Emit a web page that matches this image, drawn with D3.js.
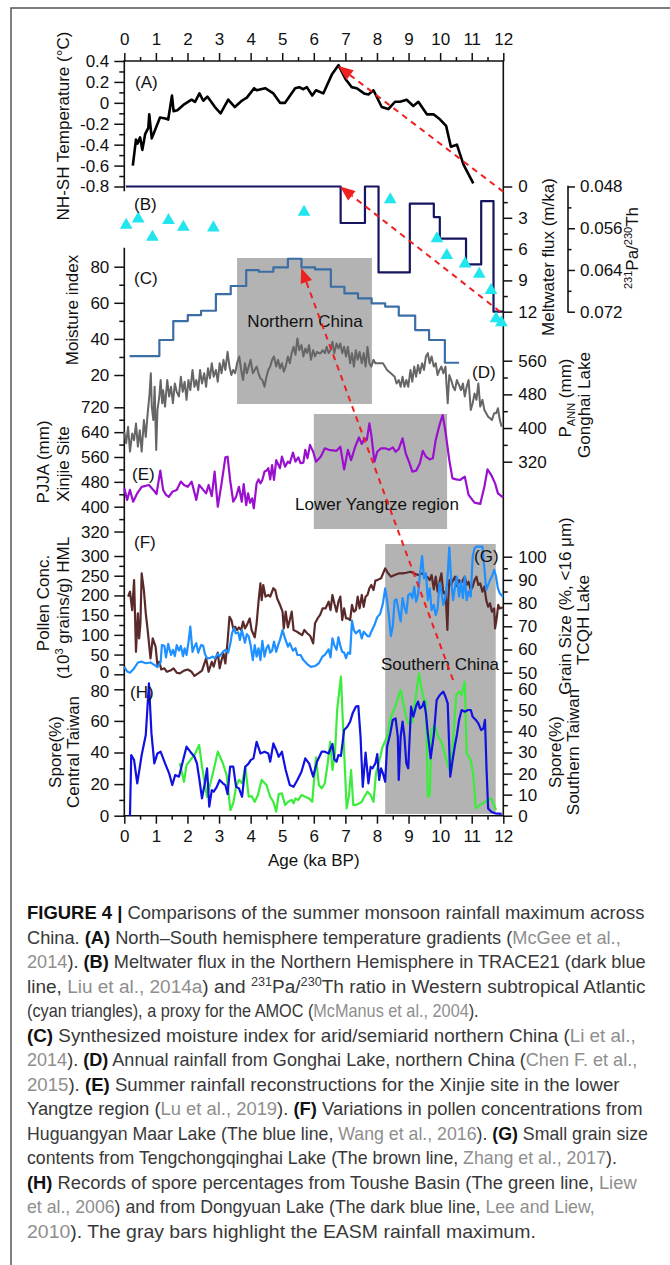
<!DOCTYPE html>
<html>
<head>
<meta charset="utf-8">
<script src="https://cdn.jsdelivr.net/npm/d3@7"></script>
<style>
	body { margin: 0; background: #fff; }
	svg text { font-family: "Liberation Sans", Arial, sans-serif; }
</style>
</head>
<body>
<div id="chart"></div>
<script>
// ---- data (age in ka BP, value in the panel's own unit) ----
const ageTicks = [0, 1, 2, 3, 4, 5, 6, 7, 8, 9, 10, 11, 12];
const ageMinor = [0.5, 1.5, 2.5, 3.5, 4.5, 5.5, 6.5, 7.5, 8.5, 9.5, 10.5, 11.5];

// (A) NH-SH temperature gradient
const nhShTemp = [[0.27,-0.6],[0.37,-0.35],[0.42,-0.39],[0.5,-0.33],[0.57,-0.45],[0.66,-0.3],[0.76,-0.24],[0.79,-0.11],[0.87,-0.34],[1.13,-0.14],[1.3,-0.15],[1.39,-0.16],[1.51,0.07],[1.56,-0.08],[1.68,-0.07],[1.87,-0.02],[2.13,0.03],[2.24,0.01],[2.38,0.09],[2.5,0.02],[2.63,0.06],[2.87,-0.04],[3.05,-0.1],[3.29,0.03],[3.5,-0.04],[3.72,0.02],[3.88,0.05],[4.11,0.14],[4.19,0.12],[4.46,0.14],[4.72,0.09],[4.93,0],[5.09,0],[5.41,0.14],[5.54,0.15],[5.67,0.13],[5.78,0.15],[5.95,0.07],[6.07,0.12],[6.3,0.09],[6.57,0.27],[6.78,0.36],[7.02,0.22],[7.2,0.15],[7.36,0.14],[7.59,0.09],[7.73,0.08],[7.89,0.12],[8.15,-0.04],[8.36,-0.06],[8.57,0.01],[8.73,0.01],[8.94,0.03],[9.15,-0.03],[9.31,0.01],[9.58,-0.11],[9.79,-0.11],[10.0,-0.16],[10.19,-0.22],[10.34,-0.42],[10.53,-0.4],[10.74,-0.59],[11.05,-0.77]];
const tempTicks = [0.4, 0.2, 0, -0.2, -0.4, -0.6, -0.8];
const tempMinor = [0.3, 0.1, -0.1, -0.3, -0.5, -0.7];

// (B) meltwater flux (step) and 231Pa/230Th
const meltwaterSteps = [[0.05,0],[6.85,3.5],[7.62,0],[8.05,8.24],[9.04,1.65],[9.8,2.93],[9.99,5.0],[10.82,7.47],[11.3,1.4],[11.69,12],[12.0,12]];
const fluxTicks = [0, 3, 6, 9, 12];
const fluxMinor = [1.5, 4.5, 7.5, 10.5];
const paTh = [[0.06,0.0554],[0.44,0.0542],[0.89,0.0577],[1.4,0.0545],[1.87,0.0558],[2.82,0.0559],[5.69,0.0529],[8.42,0.0505],[9.9,0.058],[10.21,0.0612],[10.79,0.0628],[11.24,0.0648],[11.61,0.0679],[11.77,0.0733],[11.94,0.0741]];
const paThTicks = [0.048, 0.056, 0.064, 0.072];
const paThMinor = [0.052, 0.060, 0.068];

// (C) moisture index (step)
const moistureSteps = [[0.17,30.5],[1.11,39.4],[1.55,49.9],[2.01,53.2],[2.43,55.6],[2.9,64.8],[3.37,69.3],[3.86,78.1],[4.26,77.2],[4.72,79.6],[5.18,84.4],[5.61,79.6],[6.04,78.5],[6.54,68.9],[6.97,65.2],[7.4,62.5],[7.83,59.7],[8.26,57.9],[8.69,52.9],[9.21,44.9],[9.65,39.4],[10.15,26.8],[10.6,26.8]];
const moistTicks = [20, 40, 60, 80];
const moistMinor = [30, 50, 70];

// (D) Gonghai Lake P_ANN (mm)
const gonghai = [[0,391],[0.06,364],[0.12,403],[0.18,344],[0.25,387],[0.31,371],[0.37,411],[0.43,356],[0.49,395],[0.55,344],[0.62,419],[0.68,379],[0.74,435],[0.8,482],[0.84,530],[0.87,451],[0.92,419],[0.96,498],[1.01,348],[1.05,443],[1.11,475],[1.15,514],[1.2,459],[1.23,490],[1.29,451],[1.36,514],[1.42,475],[1.48,498],[1.54,459],[1.6,506],[1.66,486],[1.73,475],[1.79,522],[1.85,486],[1.91,510],[1.97,467],[2.03,514],[2.09,490],[2.16,538],[2.22,498],[2.28,514],[2.34,490],[2.4,538],[2.46,506],[2.53,530],[2.59,498],[2.65,542],[2.71,518],[2.77,554],[2.83,522],[2.9,538],[2.96,510],[3.02,554],[3.08,530],[3.14,562],[3.2,538],[3.27,581],[3.33,546],[3.39,526],[3.45,538],[3.51,530],[3.57,554],[3.64,570],[3.7,538],[3.76,514],[3.82,554],[3.88,530],[3.94,546],[4.0,562],[4.07,530],[4.13,538],[4.19,546],[4.25,530],[4.31,518],[4.37,514],[4.44,498],[4.5,522],[4.56,538],[4.62,546],[4.68,562],[4.74,570],[4.81,546],[4.87,562],[4.93,542],[4.99,554],[5.05,534],[5.11,546],[5.18,570],[5.24,554],[5.3,578],[5.36,593],[5.42,574],[5.48,613],[5.54,585],[5.61,597],[5.67,570],[5.73,589],[5.79,578],[5.85,597],[5.91,562],[5.98,585],[6.04,570],[6.1,581],[6.16,578],[6.22,578],[6.28,585],[6.35,578],[6.41,593],[6.47,578],[6.53,585],[6.59,605],[6.65,578],[6.72,601],[6.78,589],[6.84,601],[6.9,578],[6.96,593],[7.02,570],[7.08,593],[7.15,554],[7.21,578],[7.27,546],[7.33,585],[7.39,562],[7.45,581],[7.52,554],[7.58,578],[7.64,546],[7.7,593],[7.76,554],[7.82,546],[7.89,562],[7.95,554],[8.07,554],[8.19,554],[8.32,538],[8.44,530],[8.56,522],[8.62,506],[8.69,514],[8.75,498],[8.81,522],[8.87,498],[8.93,514],[8.99,498],[9.06,538],[9.12,510],[9.18,546],[9.24,522],[9.3,550],[9.36,530],[9.43,554],[9.49,538],[9.55,570],[9.61,578],[9.67,554],[9.73,570],[9.8,546],[9.86,554],[9.92,526],[9.98,538],[10.04,546],[10.1,530],[10.17,546],[10.2,506],[10.24,459],[10.29,526],[10.35,514],[10.41,498],[10.47,490],[10.53,514],[10.6,502],[10.66,490],[10.72,506],[10.78,475],[10.84,498],[10.9,514],[10.97,443],[11.03,459],[11.09,482],[11.15,467],[11.21,506],[11.27,451],[11.34,467],[11.4,443],[11.46,435],[11.52,427],[11.58,423],[11.64,419],[11.71,435],[11.77,435],[11.83,447],[11.89,419],[11.95,403]];
const gonghaiTicks = [560, 480, 400, 320];
const gonghaiMinor = [520, 440, 360];

// (E) Xinjie site PJJA (mm)
const xinjie = [[0,459],[0.09,422],[0.18,454],[0.28,416],[0.41,443],[0.55,464],[0.78,470],[0.92,454],[1.02,441],[1.14,516],[1.23,454],[1.32,438],[1.41,432],[1.52,448],[1.66,454],[1.79,481],[1.89,470],[2.01,464],[2.13,481],[2.28,422],[2.37,470],[2.46,459],[2.59,443],[2.67,470],[2.77,434],[2.86,513],[2.96,400],[3.08,475],[3.2,559],[3.27,561],[3.35,486],[3.45,416],[3.54,432],[3.63,464],[3.72,416],[3.78,473],[3.86,405],[3.92,443],[3.98,413],[4.05,427],[4.1,395],[4.19,475],[4.25,488],[4.31,475],[4.37,486],[4.44,513],[4.5,516],[4.56,524],[4.62,488],[4.68,534],[4.74,486],[4.81,550],[4.87,537],[4.93,524],[4.99,561],[5.09,529],[5.18,545],[5.24,540],[5.34,574],[5.42,545],[5.51,559],[5.58,540],[5.67,542],[5.73,583],[5.8,556],[5.88,599],[5.98,577],[6.07,545],[6.22,561],[6.35,588],[6.47,583],[6.72,580],[6.84,593],[6.96,520],[7.08,583],[7.18,550],[7.31,593],[7.43,623],[7.52,602],[7.6,620],[7.68,615],[7.76,668],[7.82,631],[7.92,545],[8.01,577],[8.13,588],[8.26,588],[8.38,583],[8.5,591],[8.59,577],[8.69,585],[8.81,620],[8.91,572],[9.03,540],[9.12,513],[9.24,516],[9.36,540],[9.45,580],[9.55,561],[9.67,552],[9.77,556],[9.86,615],[9.98,663],[10.08,695],[10.17,642],[10.29,550],[10.39,491],[10.51,488],[10.63,486],[10.78,497],[10.9,438],[11.09,413],[11.27,409],[11.4,464],[11.5,520],[11.62,502],[11.74,475],[11.83,443],[11.99,430]];
const xinjieTicks = [720, 640, 560, 480, 400, 320];
const xinjieMinor = [680, 600, 520, 440, 360];

// (F) Huguangyan Maar Lake pollen concentration
const pollen = [[0,19],[0.09,7],[0.18,4],[0.31,15],[0.43,30],[0.55,32],[0.68,28],[0.83,30],[0.95,24],[1.05,18],[1.15,30],[1.19,74],[1.27,72],[1.32,43],[1.39,77],[1.48,49],[1.54,62],[1.6,46],[1.66,74],[1.73,60],[1.79,72],[1.86,46],[1.91,66],[1.97,49],[2.03,80],[2.09,121],[2.16,57],[2.22,70],[2.28,79],[2.34,55],[2.43,74],[2.5,72],[2.55,52],[2.62,41],[2.71,41],[2.8,45],[2.87,41],[2.96,52],[3.02,46],[3.12,57],[3.2,62],[3.29,55],[3.36,79],[3.41,104],[3.47,117],[3.53,104],[3.61,106],[3.66,87],[3.72,112],[3.76,100],[3.82,80],[3.88,102],[3.94,96],[4.0,74],[4.07,36],[4.13,74],[4.19,45],[4.25,66],[4.31,36],[4.37,85],[4.44,45],[4.5,66],[4.56,74],[4.62,55],[4.68,60],[4.74,83],[4.81,57],[4.87,74],[4.93,87],[5.01,112],[5.09,91],[5.18,70],[5.24,79],[5.34,60],[5.42,66],[5.48,49],[5.58,49],[5.67,36],[5.79,26],[5.91,19],[6.04,21],[6.16,28],[6.28,46],[6.35,49],[6.47,63],[6.53,43],[6.59,91],[6.65,74],[6.72,62],[6.78,94],[6.84,72],[6.9,57],[6.96,55],[7.02,41],[7.08,55],[7.15,52],[7.21,136],[7.27,112],[7.33,104],[7.39,108],[7.45,112],[7.52,91],[7.58,108],[7.7,97],[7.76,96],[7.82,108],[7.92,125],[8.01,145],[8.1,153],[8.19,180],[8.26,218],[8.32,188],[8.38,146],[8.44,97],[8.5,121],[8.56,188],[8.62,190],[8.69,159],[8.75,134],[8.81,193],[8.87,170],[8.93,155],[8.99,201],[9.06,205],[9.12,193],[9.18,222],[9.24,184],[9.3,201],[9.36,252],[9.43,300],[9.49,243],[9.55,256],[9.61,188],[9.67,218],[9.73,163],[9.8,176],[9.86,150],[9.92,167],[9.98,231],[10.04,210],[10.1,176],[10.17,197],[10.23,239],[10.29,322],[10.35,235],[10.41,188],[10.47,222],[10.53,248],[10.6,197],[10.66,235],[10.72,193],[10.78,248],[10.84,188],[10.9,210],[10.97,197],[11.03,298],[11.09,320],[11.15,324],[11.27,324],[11.34,324],[11.4,269],[11.46,214],[11.52,227],[11.58,239],[11.64,248],[11.71,265],[11.77,248],[11.83,218],[11.89,205],[11.99,197]];
const pollenTicks = [300, 250, 200, 150, 100, 50, 0];
const pollenMinor = [275, 225, 175, 125, 75, 25];

// (G) TCQH Lake grain size (%)
const grainSize = [[0.12,82.8],[0.18,84.9],[0.25,77.0],[0.31,89.9],[0.37,59.0],[0.43,75.6],[0.47,64.8],[0.51,71.3],[0.55,92.8],[0.62,85.6],[0.68,75.6],[0.74,68.4],[0.83,56.2],[0.9,64.8],[0.99,61.2],[1.05,53.3],[1.11,54.7],[1.17,51.4],[1.27,51.9],[1.35,50.4],[1.48,51.1],[1.56,51.9],[1.66,50.0],[1.76,49.7],[1.89,50.9],[2.01,51.4],[2.13,50.4],[2.22,48.6],[2.34,49.7],[2.46,50.9],[2.59,56.2],[2.67,50.4],[2.77,54.7],[2.83,52.6],[2.9,56.2],[2.96,58.6],[3.02,51.9],[3.08,55.5],[3.14,58.3],[3.2,54.0],[3.27,63.4],[3.33,74.1],[3.39,72.7],[3.45,69.1],[3.51,69.8],[3.57,68.4],[3.63,69.5],[3.7,68.4],[3.76,72.0],[3.82,69.1],[3.88,70.5],[3.97,73.4],[4.03,68.4],[4.13,65.2],[4.19,71.3],[4.25,80.6],[4.31,88.5],[4.35,81.3],[4.4,87.8],[4.47,82.8],[4.56,83.5],[4.62,82.8],[4.72,86.4],[4.78,85.6],[4.84,82.0],[4.93,79.2],[5.01,76.3],[5.05,69.1],[5.11,76.3],[5.18,69.5],[5.24,72.7],[5.3,76.3],[5.36,68.4],[5.46,67.7],[5.54,67.0],[5.63,66.2],[5.7,68.4],[5.79,67.0],[5.89,65.8],[5.98,62.6],[6.04,71.3],[6.12,73.4],[6.2,74.9],[6.28,77.7],[6.37,77.7],[6.47,80.6],[6.53,77.0],[6.59,83.5],[6.65,79.9],[6.72,76.3],[6.78,80.6],[6.84,82.8],[6.9,72.7],[6.96,77.7],[7.02,73.4],[7.08,73.4],[7.15,72.7],[7.21,79.2],[7.27,76.3],[7.33,77.0],[7.39,82.8],[7.45,77.7],[7.52,83.5],[7.58,78.4],[7.64,82.8],[7.7,83.5],[7.76,86.4],[7.82,87.8],[7.89,85.6],[7.95,89.7],[8.01,89.9],[8.13,90.7],[8.26,95.0],[8.34,93.1],[8.44,91.4],[8.56,92.1],[8.69,92.8],[8.81,92.8],[8.93,93.1],[9.06,93.5],[9.18,92.8],[9.3,92.1],[9.43,92.8],[9.55,91.4],[9.61,91.1],[9.67,89.9],[9.73,92.1],[9.8,85.9],[9.86,91.4],[9.92,84.9],[9.98,89.2],[10.04,92.8],[10.1,84.2],[10.17,84.9],[10.23,68.4],[10.26,82.0],[10.29,89.9],[10.35,87.8],[10.41,89.9],[10.47,91.4],[10.53,87.4],[10.6,89.9],[10.66,88.5],[10.72,89.9],[10.78,91.4],[10.84,87.8],[10.9,89.2],[10.97,85.6],[11.03,87.1],[11.09,89.9],[11.15,91.4],[11.21,87.8],[11.27,88.5],[11.34,84.9],[11.4,87.1],[11.46,81.3],[11.52,78.4],[11.58,79.9],[11.64,76.3],[11.71,77.7],[11.74,69.1],[11.79,73.4],[11.84,79.2],[11.89,77.7],[11.99,78.2]];
const grainTicks = [100, 90, 80, 70, 60, 50];
const grainMinor = [95, 85, 75, 65, 55];

// (H) spores: Dongyuan Lake (central Taiwan, left) and Toushe Basin (southern Taiwan, right)
const sporeCentral = [[0.18,0],[0.22,38.4],[0.31,35.2],[0.41,20.5],[0.55,38.4],[0.68,51.1],[0.78,83.8],[0.86,52.1],[0.95,33.1],[1.05,39.4],[1.15,40.5],[1.29,33.1],[1.42,26.8],[1.52,19.4],[1.61,25.7],[1.73,24.7],[1.85,34.2],[1.97,43.7],[2.09,40.5],[2.22,37.3],[2.3,33.1],[2.38,22.6],[2.46,11.0],[2.55,20.5],[2.62,30.0],[2.69,5.7],[2.77,16.2],[2.83,15.2],[2.93,18.3],[3.02,22.6],[3.12,20.5],[3.2,19.4],[3.27,13.7],[3.35,31.0],[3.45,31.0],[3.54,18.3],[3.63,17.3],[3.73,12.0],[3.83,31.0],[3.94,33.1],[4.0,35.2],[4.09,36.3],[4.19,46.8],[4.31,39.4],[4.44,40.5],[4.56,39.4],[4.62,34.2],[4.72,45.8],[4.81,41.6],[4.89,37.3],[4.99,40.5],[5.11,28.9],[5.24,19.4],[5.36,18.3],[5.48,22.6],[5.61,27.8],[5.73,36.3],[5.85,33.1],[5.98,24.7],[6.1,34.2],[6.25,40.5],[6.35,40.5],[6.47,39.4],[6.59,45.4],[6.65,35.7],[6.72,34.2],[6.78,38.4],[6.86,37.8],[6.96,54.2],[7.06,56.3],[7.15,59.5],[7.23,64.8],[7.33,69.0],[7.41,69.4],[7.48,50.0],[7.55,18.3],[7.64,39.9],[7.73,20.5],[7.8,31.0],[7.86,30.0],[7.95,33.1],[8.01,39.0],[8.07,22.6],[8.13,30.0],[8.19,26.8],[8.26,21.5],[8.32,43.7],[8.42,52.1],[8.5,60.6],[8.59,61.6],[8.66,50.0],[8.69,22.6],[8.75,50.0],[8.81,59.5],[8.87,50.0],[8.93,33.1],[8.99,30.0],[9.08,69.0],[9.15,62.7],[9.24,69.4],[9.3,72.2],[9.36,67.9],[9.43,69.0],[9.49,72.2],[9.55,64.8],[9.61,52.1],[9.7,36.3],[9.8,51.1],[9.89,73.2],[9.99,76.4],[10.1,78.5],[10.17,75.3],[10.24,71.1],[10.32,24.7],[10.41,37.3],[10.47,44.7],[10.53,51.1],[10.6,60.6],[10.68,66.9],[10.78,65.8],[10.88,66.9],[10.97,66.9],[11.03,62.7],[11.13,60.6],[11.21,58.4],[11.3,54.2],[11.37,55.3],[11.42,60.6],[11.47,28.9],[11.52,4.6],[11.62,2.5],[11.74,1.5],[11.95,1.1]];
const sporeSouth = [[1.76,24.9],[1.89,16.1],[1.97,24.0],[2.09,26.4],[2.22,28.8],[2.37,33.6],[2.46,23.3],[2.62,9.0],[2.83,21.7],[2.96,30.4],[3.12,24.9],[3.24,19.3],[3.36,2.7],[3.45,5.9],[3.54,13.8],[3.63,17.0],[3.73,15.4],[3.83,23.3],[3.94,9.0],[4.03,9.3],[4.13,6.6],[4.23,9.8],[4.35,17.0],[4.5,14.6],[4.62,9.0],[4.72,6.6],[4.81,1.9],[4.89,10.3],[4.99,10.6],[5.09,5.1],[5.19,6.6],[5.3,7.5],[5.36,5.9],[5.42,8.2],[5.51,7.5],[5.61,9.8],[5.73,9.0],[5.85,8.2],[5.95,6.6],[6.07,27.7],[6.16,14.6],[6.25,13.0],[6.35,15.4],[6.44,24.9],[6.52,35.1],[6.59,21.7],[6.67,29.6],[6.74,50.2],[6.81,59.7],[6.86,66.0],[6.94,37.5],[7.04,3.5],[7.11,9.0],[7.18,21.7],[7.25,5.1],[7.33,5.1],[7.45,5.9],[7.52,6.6],[7.6,9.0],[7.7,11.4],[7.8,9.8],[7.89,6.6],[7.97,20.1],[8.07,25.6],[8.17,32.4],[8.32,37.5],[8.44,47.0],[8.56,51.0],[8.75,59.7],[8.91,47.8],[8.99,43.8],[9.12,44.6],[9.2,53.3],[9.33,67.6],[9.4,61.2],[9.49,54.6],[9.55,54.6],[9.61,9.0],[9.67,9.8],[9.73,40.7],[9.82,43.0],[9.94,37.5],[10.04,35.1],[10.17,28.0],[10.29,21.7],[10.39,31.2],[10.51,57.3],[10.6,58.9],[10.68,57.3],[10.78,63.6],[10.84,29.6],[10.97,26.4],[11.05,19.3],[11.13,3.5],[11.27,5.1],[11.42,6.6],[11.52,7.5],[11.62,8.2],[11.77,2.7]];
const centralTicks = [80, 60, 40, 20, 0];
const centralMinor = [70, 50, 30, 10];
const southTicks = [60, 50, 40, 30, 20, 10, 0];
const southMinor = [55, 45, 35, 25, 15, 5];

// gray bars (ka BP) and their labels
const grayBars = [
	{ label: 'Northern China', from: 3.57, to: 7.84 },
	{ label: 'Lower Yangtze region', from: 6.0, to: 10.22 },
	{ label: 'Southern China', from: 8.26, to: 11.76 }
];

// ---- layout ----
const W = 670, H = 1265;
const font = '"Liberation Sans", Arial, sans-serif';
const x = d3.scaleLinear().domain([0, 12]).range([124.3, 503.3]);
const yTemp = d3.scaleLinear().domain([-0.8, 0.4]).range([186.5, 61]);
const yFlux = d3.scaleLinear().domain([0, 12]).range([186.5, 311.7]);
const yPaTh = d3.scaleLinear().domain([0.048, 0.072]).range([186.5, 311.7]);
const yMoist = d3.scaleLinear().domain([20, 80]).range([375, 266.7]);
const yGong = d3.scaleLinear().domain([320, 560]).range([461.7, 360.7]);
const yXinjie = d3.scaleLinear().domain([400, 720]).range([506.7, 407.3]);
const yPollen = d3.scaleLinear().domain([0, 300]).range([674.3, 556]);
const yGrain = d3.scaleLinear().domain([50, 100]).range([672.7, 556.7]);
const yCentral = d3.scaleLinear().domain([0, 80]).range([815.7, 689.3]);
const ySouth = d3.scaleLinear().domain([0, 60]).range([815.7, 689.3]);
const paThX = 568;

const barBands = [[258, 404], [414, 529], [544, 814]];
const barText = [[305, 327], [377, 510], [440, 670]];

const svg = d3.select('#chart').append('svg')
	.attr('width', W)
	.attr('height', H)
	.style('display', 'block');

// page frame
svg.append('path')
	.attr('d', `M11,${H} V8 H${W}`)
	.attr('fill', 'none')
	.attr('stroke', '#555')
	.attr('stroke-width', 1.5);

// gray bars
const bars = svg.append('g');
grayBars.forEach((b, i) => {
	bars.append('rect')
		.attr('x', x(b.from))
		.attr('y', barBands[i][0])
		.attr('width', x(b.to) - x(b.from))
		.attr('height', barBands[i][1] - barBands[i][0])
		.attr('fill', '#b3b3b3');
	bars.append('text')
		.attr('x', barText[i][0])
		.attr('y', barText[i][1])
		.attr('text-anchor', 'middle')
		.attr('font-size', 17)
		.attr('fill', '#111')
		.text(b.label);
});

// axes
const axes = svg.append('g');
const makers = { left: d3.axisLeft, right: d3.axisRight, top: d3.axisTop, bottom: d3.axisBottom };

const drawAxis = function (orient, scale, pos, major, minor, majorLen, pad) {
	let tr = (orient === 'left' || orient === 'right') ? `translate(${pos},0)` : `translate(0,${pos})`;
	let gMinor = axes.append('g')
		.attr('transform', tr)
		.call(makers[orient](scale).tickValues(minor).tickSize(majorLen / 2).tickFormat(''));
	gMinor.select('.domain').remove();
	let g = axes.append('g')
		.attr('transform', tr)
		.call(makers[orient](scale).tickValues(major).tickSize(majorLen).tickPadding(pad).tickFormat(d => String(d)));
	g.select('.domain').remove();
	g.attr('font-size', 17).attr('font-family', font);
	g.selectAll('text').attr('fill', '#111');
	axes.selectAll('.tick line').attr('stroke', '#111').attr('stroke-width', 1.5);
	return g;
}

drawAxis('top', x, yTemp(0.4), ageTicks, ageMinor, 8, 8);
drawAxis('bottom', x, yCentral(0), ageTicks, ageMinor, 8, 6);
drawAxis('left', yTemp, x(0), tempTicks, tempMinor, 10, 5);
drawAxis('left', yMoist, x(0), moistTicks, moistMinor, 10, 5);
drawAxis('left', yXinjie, x(0), xinjieTicks, xinjieMinor, 10, 5);
// the "0" of (F) and the "80" of (H) sit almost on top of each other: nudge apart a little
drawAxis('left', yPollen, x(0), pollenTicks, pollenMinor, 10, 5)
	.selectAll('text').filter(d => d === 0).attr('dy', '0.2em');
drawAxis('left', yCentral, x(0), centralTicks, centralMinor, 10, 5)
	.selectAll('text').filter(d => d === 80).attr('dy', '0.44em');
drawAxis('right', yFlux, x(12), fluxTicks, fluxMinor, 9, 6);
drawAxis('right', yGong, x(12), gonghaiTicks, gonghaiMinor, 9, 6);
drawAxis('right', yGrain, x(12), grainTicks, grainMinor, 9, 6);
drawAxis('right', ySouth, x(12), southTicks, southMinor, 9, 6);
drawAxis('right', yPaTh, paThX, paThTicks, paThMinor, 7, 5);

const axisLine = function (x1, y1, x2, y2) {
	axes.append('line')
		.attr('x1', x1).attr('y1', y1)
		.attr('x2', x2).attr('y2', y2)
		.attr('stroke', '#111')
		.attr('stroke-width', 1.6)
		.attr('stroke-linecap', 'square');
}
axisLine(x(0), yTemp(0.4), x(12), yTemp(0.4));
axisLine(x(0), yCentral(0), x(12), yCentral(0));
axisLine(x(0), yTemp(0.4), x(0), yTemp(-0.8) + 4);
axisLine(x(0), yMoist(90), x(0), yCentral(0));
axisLine(x(12), yTemp(0.4), x(12), yCentral(0));
axisLine(paThX, yPaTh(0.048), paThX, yPaTh(0.072));

// axis titles
const titles = svg.append('g').attr('font-size', 17).attr('fill', '#111');
const vTitle = function (cx, cy, parts) {
	let t = titles.append('text')
		.attr('transform', `translate(${cx},${cy}) rotate(-90)`)
		.attr('text-anchor', 'middle')
		.attr('dy', '0.35em')
		.style('white-space', 'pre');
	let shift = 0;
	parts.forEach(p => {
		let s = typeof p === 'string' ? { t: p } : p;
		let dy = 0, size = null;
		if (s.sup) { dy = -6 - shift; shift = -6; size = 11; }
		else if (s.sub) { dy = 4 - shift; shift = 4; size = 11; }
		else { dy = -shift; shift = 0; }
		let ts = t.append('tspan').text(s.t);
		if (dy) ts.attr('dy', dy);
		if (size) ts.attr('font-size', size);
	});
}
vTitle(63, 126, ['NH-SH Temperature (°C)']);
vTitle(72, 310, ['Moisture index']);
vTitle(43, 462, ['PJJA (mm)']);
vTitle(63, 464, ['Xinjie Site']);
vTitle(43, 603, ['Pollen Conc.']);
vTitle(63, 608, ['(10', { t: '3', sup: true }, ' grains/g) HML']);
vTitle(55, 752, ['Spore(%)']);
vTitle(73, 752, ['Central Taiwan']);
vTitle(548, 257, ['Meltwater flux (m/ka)']);
vTitle(638, 248, [{ t: '231', sup: true }, 'Pa/', { t: '230', sup: true }, 'Th']);
vTitle(565, 398, ['P', { t: 'ANN', sub: true }, ' (mm)']);
vTitle(584, 405, ['Gonghai Lake']);
vTitle(565, 606, ['Grain Size (%, <16 μm)']);
vTitle(583, 620, ['TCQH Lake']);
vTitle(555, 752, ['Spore(%)']);
vTitle(573, 752, ['Southern Taiwan']);
titles.append('text')
	.attr('x', (x(0) + x(12)) / 2)
	.attr('y', 866)
	.attr('text-anchor', 'middle')
	.text('Age (ka BP)');

// data lines
const plot = svg.append('g').attr('fill', 'none').attr('stroke-linejoin', 'round');
const drawLine = function (data, yScale, color, width, curve) {
	plot.append('path')
		.datum(data)
		.attr('d', d3.line().x(d => x(d[0])).y(d => yScale(d[1])).curve(curve || d3.curveLinear))
		.attr('stroke', color)
		.attr('stroke-width', width);
}
drawLine(nhShTemp, yTemp, '#000', 2.6);
drawLine(meltwaterSteps, yFlux, '#15155f', 2.2, d3.curveStepAfter);
drawLine(moistureSteps, yMoist, '#3b6ea5', 2.2, d3.curveStepAfter);
drawLine(gonghai, yGong, '#666', 2);
drawLine(xinjie, yXinjie, '#9a10cf', 2.2);
drawLine(grainSize, yGrain, '#5a2a2a', 2.2);
drawLine(pollen, yPollen, '#1e90ff', 2.2);
drawLine(sporeSouth, ySouth, '#3cec3c', 2.2);
drawLine(sporeCentral, yCentral, '#1111e0', 2.2);

svg.append('g').selectAll('path')
	.data(paTh)
	.enter().append('path')
	.attr('transform', d => `translate(${x(d[0])},${yPaTh(d[1])})`)
	.attr('d', d3.symbol(d3.symbolTriangle).size(70))
	.attr('fill', '#22e5ee');

// panel letters
const letters = [['(A)', 135, 88], ['(B)', 134, 210], ['(C)', 134, 284], ['(D)', 472, 378], ['(E)', 132, 480], ['(F)', 134, 548], ['(G)', 474, 562], ['(H)', 130, 698]];
svg.append('g').selectAll('text')
	.data(letters)
	.enter().append('text')
	.attr('x', d => d[1])
	.attr('y', d => d[2])
	.attr('font-size', 17)
	.attr('fill', '#111')
	.text(d => d[0]);

// red dashed arrows
const arrows = [
	{ from: [12.0, yTemp(-0.85)], to: [6.77, yTemp(0.352)] },
	{ from: [11.9, yFlux(12)], to: [6.83, yFlux(0)] },
	{ from: [10.41, yPollen(-14.5)], to: [5.6, yMoist(79.3)] }
];
const arrowG = svg.append('g');
arrows.forEach(a => {
	let x1 = x(a.from[0]), y1 = a.from[1], x2 = x(a.to[0]), y2 = a.to[1];
	let ang = Math.atan2(y2 - y1, x2 - x1), L = 15, hw = 6;
	let bx = x2 - L * Math.cos(ang), by = y2 - L * Math.sin(ang);
	arrowG.append('line')
		.attr('x1', x1).attr('y1', y1).attr('x2', bx).attr('y2', by)
		.attr('stroke', '#ee2020')
		.attr('stroke-width', 2)
		.attr('stroke-dasharray', '6,5');
	arrowG.append('path')
		.attr('d', `M${x2},${y2}L${bx + hw * Math.sin(ang)},${by - hw * Math.cos(ang)}L${bx - hw * Math.sin(ang)},${by + hw * Math.cos(ang)}Z`)
		.attr('fill', '#ee2020');
});

// caption
const captionLines = [
	[['FIGURE 4 |', 'b'], [' Comparisons of the summer monsoon rainfall maximum across', 'n']],
	[['China. ', 'n'], ['(A)', 'b'], [' North–South hemisphere temperature gradients (', 'n'], ['McGee et al.,', 'c']],
	[['2014', 'c'], ['). ', 'n'], ['(B)', 'b'], [' Meltwater flux in the Northern Hemisphere in TRACE21 (dark blue', 'n']],
	[['line, ', 'n'], ['Liu et al., 2014a', 'c'], [') and ', 'n'], ['231', 's'], ['Pa/', 'n'], ['230', 's'], ['Th ratio in Western subtropical Atlantic', 'n']],
	[['(cyan triangles), a proxy for the AMOC (', 'n'], ['McManus et al., 2004', 'c'], [').', 'n']],
	[['(C)', 'b'], [' Synthesized moisture index for arid/semiarid northern China (', 'n'], ['Li et al.,', 'c']],
	[['2014', 'c'], ['). ', 'n'], ['(D)', 'b'], [' Annual rainfall from Gonghai Lake, northern China (', 'n'], ['Chen F. et al.,', 'c']],
	[['2015', 'c'], ['). ', 'n'], ['(E)', 'b'], [' Summer rainfall reconstructions for the Xinjie site in the lower', 'n']],
	[['Yangtze region (', 'n'], ['Lu et al., 2019', 'c'], ['). ', 'n'], ['(F)', 'b'], [' Variations in pollen concentrations from', 'n']],
	[['Huguangyan Maar Lake (The blue line, ', 'n'], ['Wang et al., 2016', 'c'], ['). ', 'n'], ['(G)', 'b'], [' Small grain size', 'n']],
	[['contents from Tengchongqinghai Lake (The brown line, ', 'n'], ['Zhang et al., 2017', 'c'], [').', 'n']],
	[['(H)', 'b'], [' Records of spore percentages from Toushe Basin (The green line, ', 'n'], ['Liew', 'c']],
	[['et al., 2006', 'c'], [') and from Dongyuan Lake (The dark blue line, ', 'n'], ['Lee and Liew,', 'c']],
	[['2010', 'c'], ['). The gray bars highlight the EASM rainfall maximum.', 'n']]
];
const captionWidths = [618, 594, 619, 619, 452, 609, 611, 593, 616, 621, 590, 610, 568, 509];
const capColor = { n: '#383838', b: '#111', c: '#8e8e8e', s: '#383838' };

const caption = svg.append('g');
captionLines.forEach((segs, i) => {
	let t = caption.append('text')
		.attr('font-family', '"Liberation Sans Narrow", "Liberation Sans", Arial, sans-serif')
		.attr('font-size', 18)
		.style('white-space', 'pre');
	let raised = false;
	segs.forEach(([s, k]) => {
		let ts = t.append('tspan').text(s).attr('fill', capColor[k]);
		if (k === 'b') ts.attr('font-weight', 'bold');
		if (k === 's') {
			ts.attr('font-size', 12).attr('dy', raised ? 0 : -7);
			raised = true;
		} else if (raised) {
			ts.attr('dy', 7);
			raised = false;
		}
	});
	let w = t.node().getComputedTextLength();
	t.attr('transform', `translate(27,${919 + i * 24.5}) scale(${captionWidths[i] / w},1)`);
});
</script>
</body>
</html>
